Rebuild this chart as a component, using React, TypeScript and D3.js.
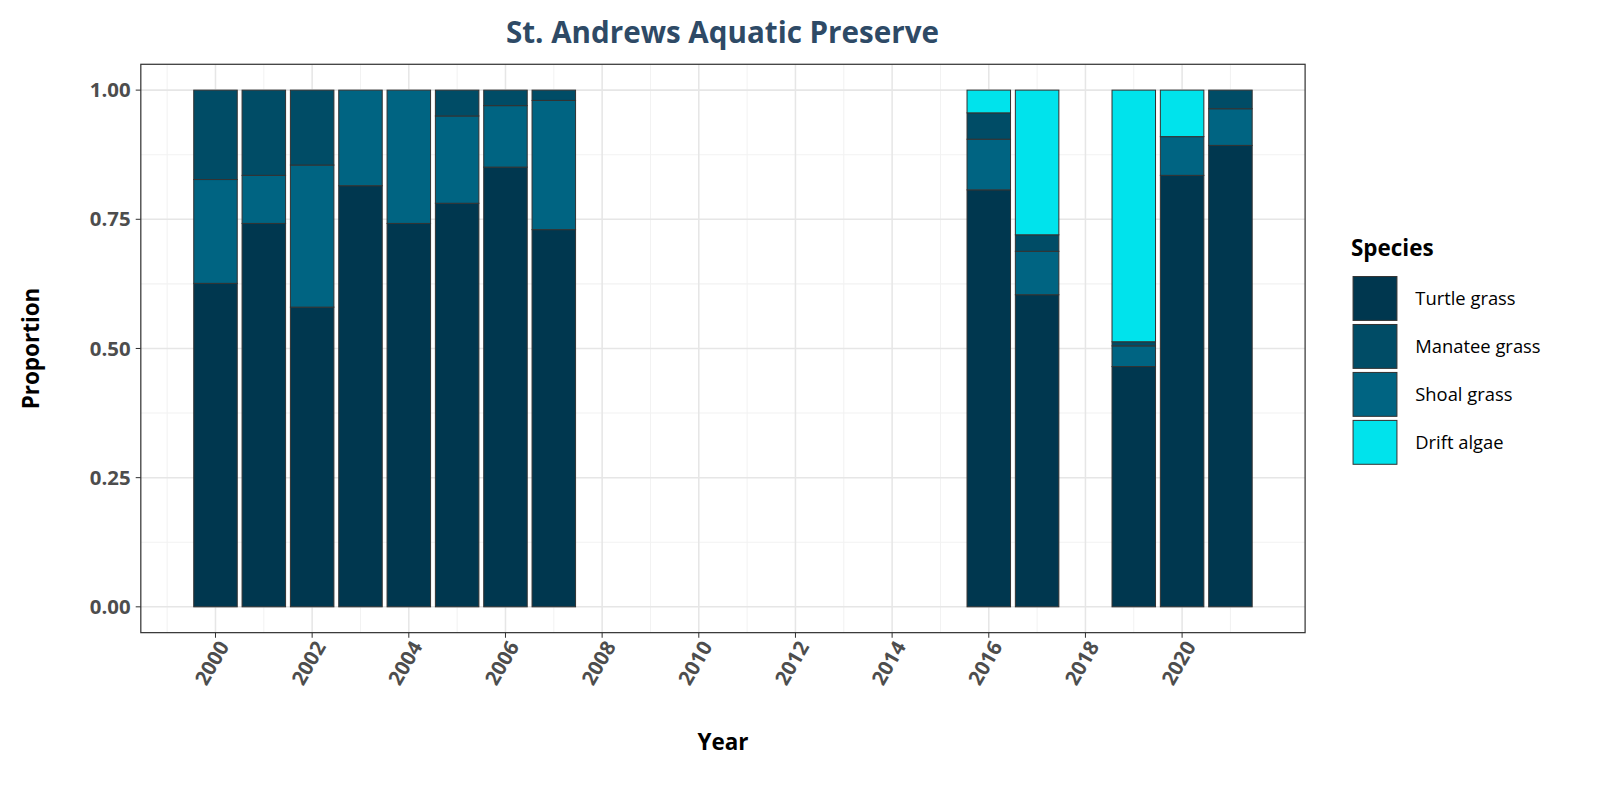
import React from "react";
import * as d3 from "d3";

const years = [2000, 2001, 2002, 2003, 2004, 2005, 2006, 2007, 2016, 2017, 2019, 2020, 2021];
const turtle = [0.626, 0.742, 0.58, 0.815, 0.742, 0.781, 0.851, 0.73, 0.807, 0.604, 0.465, 0.835, 0.893];
const shoal = [0.201, 0.093, 0.275, 0.185, 0.258, 0.169, 0.119, 0.25, 0.098, 0.084, 0.04, 0.075, 0.071];
const manatee = [0.173, 0.165, 0.145, 0, 0, 0.05, 0.03, 0.02, 0.051, 0.032, 0.008, 0, 0.036];
const drift = [0, 0, 0, 0, 0, 0, 0, 0, 0.044, 0.28, 0.487, 0.09, 0];
const species = ["Turtle grass", "Manatee grass", "Shoal grass", "Drift algae"];
const colors: Record<string, string> = {
  "Turtle grass": "#00374f",
  "Manatee grass": "#004c66",
  "Shoal grass": "#006482",
  "Drift algae": "#00e3ec",
};
const xTicks = d3.range(2000, 2021, 2);
const yTicks = [0, 0.25, 0.5, 0.75, 1];

export default function App() {
  const L = 138, R = 1279, T = 63, B = 620;
  const x = d3.scaleLinear().domain([1998.455, 2022.545]).range([L, R]);
  const y = d3.scaleLinear().domain([-0.05, 1.05]).range([B, T]);
  const bw = x(2000.45) - x(1999.55);
  const stackOrder: [string, number[]][] = [
    ["Turtle grass", turtle],
    ["Shoal grass", shoal],
    ["Manatee grass", manatee],
    ["Drift algae", drift],
  ];
  const font = "'Open Sans', sans-serif";
  const minorX = d3.range(1999, 2023, 2);
  const minorY = [0.125, 0.375, 0.625, 0.875];
  const k = 1600 / 1568;
  return (
    <svg width={1600} height={800} style={{ position: "absolute", left: 0, top: 0 }} fontFamily={font}>
      <rect width={1600} height={800} fill="#fff" />
      <g transform={`scale(${k})`}>
      {minorX.map((v) => (
        <line key={"mx" + v} x1={x(v)} x2={x(v)} y1={T} y2={B} stroke="#f2f2f2" strokeWidth={1} />
      ))}
      {minorY.map((v) => (
        <line key={"my" + v} x1={L} x2={R} y1={y(v)} y2={y(v)} stroke="#f2f2f2" strokeWidth={1} />
      ))}
      {xTicks.map((v) => (
        <line key={"gx" + v} x1={x(v)} x2={x(v)} y1={T} y2={B} stroke="#e6e6e6" strokeWidth={1.5} />
      ))}
      {yTicks.map((v) => (
        <line key={"gy" + v} x1={L} x2={R} y1={y(v)} y2={y(v)} stroke="#e6e6e6" strokeWidth={1.5} />
      ))}
      {years.map((yr, i) => {
        let acc = 0;
        return stackOrder.map(([name, arr]) => {
          const v = arr[i];
          const y0 = acc;
          acc += v;
          if (v <= 0) return null;
          return (
            <rect key={yr + name} x={x(yr) - bw / 2} width={bw} y={y(acc)} height={y(y0) - y(acc)}
              fill={colors[name]} stroke="#333" strokeWidth={1} />
          );
        });
      })}
      <rect x={L} y={T} width={R - L} height={B - T} fill="none" stroke="#333" strokeWidth={1.2} />
      {yTicks.map((v) => (
        <g key={"ty" + v}>
          <line x1={L - 5} x2={L} y1={y(v)} y2={y(v)} stroke="#333" />
          <text x={L - 10} y={y(v)} dy="0.35em" textAnchor="end" fontSize={20} fontWeight="bold" fill="#4d4d4d">
            {v.toFixed(2)}
          </text>
        </g>
      ))}
      {xTicks.map((v) => (
        <g key={"tx" + v}>
          <line x1={x(v)} x2={x(v)} y1={B} y2={B + 5} stroke="#333" />
          <text transform={`translate(${x(v) + 8},${B + 10}) rotate(-60)`} textAnchor="end" dy="0.35em"
            fontSize={20} fontWeight="bold" fill="#4d4d4d">
            {v}
          </text>
        </g>
      ))}
      <text x={(L + R) / 2} y={735} textAnchor="middle" fontSize={22} fontWeight="bold" fill="#000">Year</text>
      <text transform={`translate(38,${(T + B) / 2}) rotate(-90)`} textAnchor="middle" fontSize={22} fontWeight="bold" fill="#000">
        Proportion
      </text>
      <text x={708} y={42} textAnchor="middle" fontSize={29} fontWeight="bold" fill="#2e4a66">
        St. Andrews Aquatic Preserve
      </text>
      <text x={1324} y={251} fontSize={22} fontWeight="bold" fill="#000">Species</text>
      {species.map((s, i) => (
        <g key={s}>
          <rect x={1326} y={271 + i * 47} width={43} height={43} fill={colors[s]} stroke="#333" strokeWidth={1} />
          <text x={1387} y={293 + i * 47} dy="0.35em" fontSize={18} fill="#000">{s}</text>
        </g>
      ))}
      </g>
    </svg>
  );
}
